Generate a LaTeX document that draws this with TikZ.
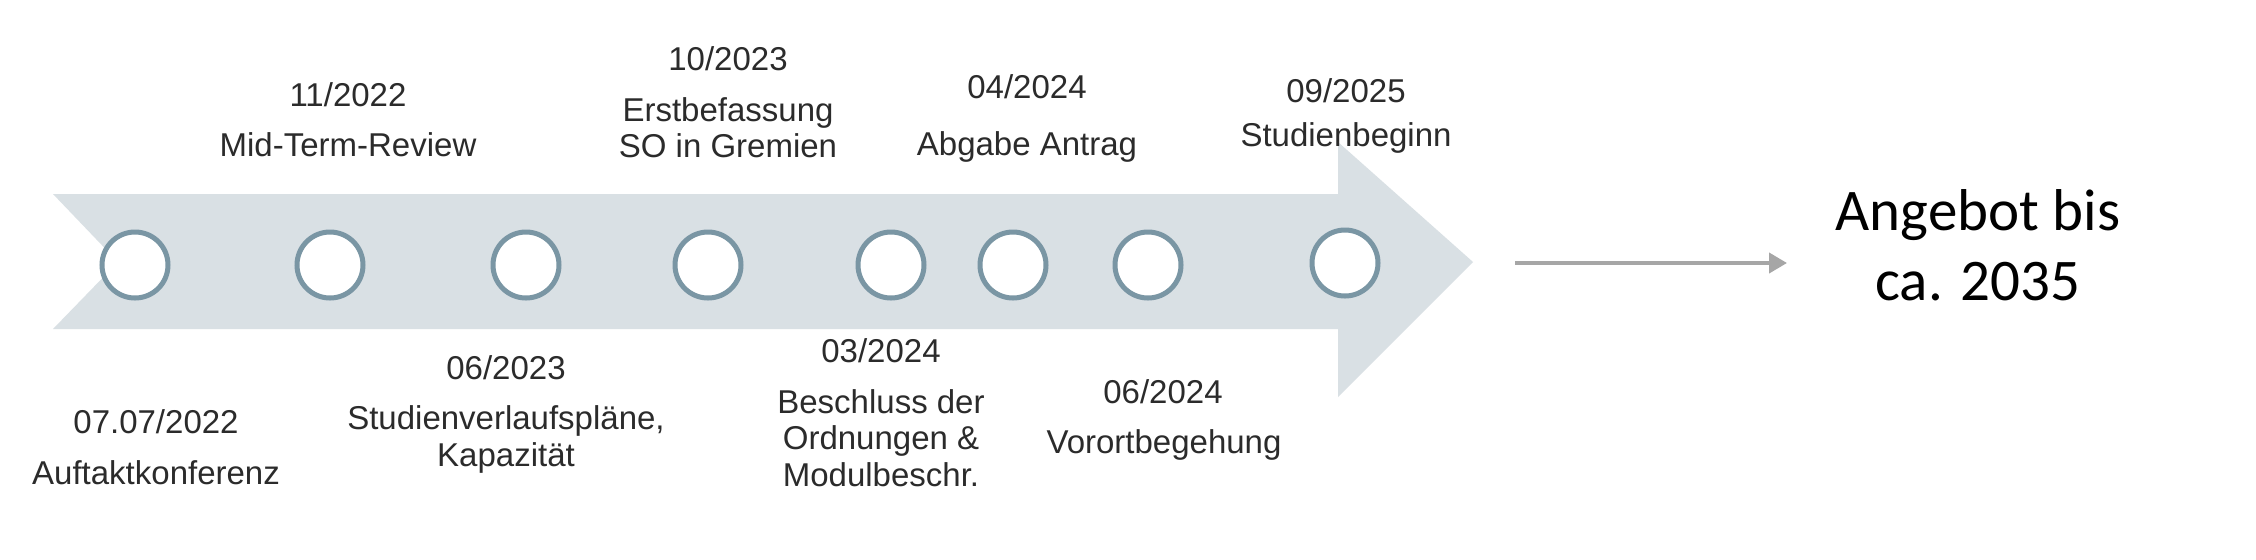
\documentclass[tikz,border=0pt]{standalone}
\usepackage{fontspec}
\usetikzlibrary{arrows.meta}
\newfontfamily\lblfont{Liberation Sans}
\newfontfamily\bigfont{Carlito}
\definecolor{bandfill}{HTML}{D9E0E4}
\definecolor{ringcol}{HTML}{7A96A4}
\definecolor{txtgray}{HTML}{2B2B2B}
\definecolor{linkgray}{HTML}{A6A6A6}
\tikzset{
  lbl/.style={font=\lblfont\fontsize{16.5pt}{18pt}\selectfont, text=txtgray, inner sep=0pt, anchor=base},
  ring/.style={circle, draw=ringcol, line width=2.5pt, fill=white, minimum size=33pt, inner sep=0pt},
  link/.style={draw=linkgray, line width=2pt, -{Triangle[length=9pt,width=10pt]}},
  bigtxt/.style={font=\bigfont\fontsize{29.5pt}{35pt}\selectfont, text=black, inner sep=0pt, anchor=base}
}
\begin{document}
\begin{tikzpicture}[x=0.5pt,y=-0.5pt]
\useasboundingbox (0,0) rectangle (2256,559);
\fill[white] (0,0) rectangle (2256,559);
% timeline arrow
\fill[bandfill] (53,194) -- (1338,194) -- (1338,142) -- (1473,262) -- (1338,397) -- (1338,329) -- (53,329) -- (118,262) -- cycle;
% milestones
\node[ring] (c1) at (135,265) {};
\node[ring] (c2) at (330,265) {};
\node[ring] (c3) at (526,265) {};
\node[ring] (c4) at (708,265) {};
\node[ring] (c5) at (891,265) {};
\node[ring] (c6) at (1013,265) {};
\node[ring] (c7) at (1148,265) {};
\node[ring] (c8) at (1345,263) {};
% labels
\node[lbl] (d1) at (156,433) {07.07/2022};
\node[lbl] (t1) at (156,484) {Auftaktkonferenz};
\node[lbl] (d2) at (348,106) {11/2022};
\node[lbl] (t2) at (348,156) {Mid-Term-Review};
\node[lbl] (d3) at (506,379) {06/2023};
\node[lbl] (t3a) at (506,429) {Studienverlaufspläne,};
\node[lbl] (t3b) at (506,466) {Kapazität};
\node[lbl] (d4) at (728,70) {10/2023};
\node[lbl] (t4a) at (728,121) {Erstbefassung};
\node[lbl] (t4b) at (728,157) {SO in Gremien};
\node[lbl] (d5) at (881,362) {03/2024};
\node[lbl] (t5a) at (881,413) {Beschluss der};
\node[lbl] (t5b) at (881,449) {Ordnungen \&};
\node[lbl] (t5c) at (881,486) {Modulbeschr.};
\node[lbl] (d6) at (1027,98) {04/2024};
\node[lbl] (t6) at (1027,155) {Abgabe Antrag};
\node[lbl] (d7) at (1163,403) {06/2024};
\node[lbl] (t7) at (1164,453) {Vorortbegehung};
\node[lbl] (d8) at (1346,102) {09/2025};
\node[lbl] (t8) at (1346,146) {Studienbeginn};
% outlook
\coordinate (gs) at (1515,263);
\coordinate (ge) at (1787,263);
\draw[link] (gs) -- (ge);
\node[bigtxt] (a1) at (1978,230) {Angebot bis};
\node[bigtxt] (a2) at (1978,300) {ca. 2035};
\end{tikzpicture}
\end{document}
